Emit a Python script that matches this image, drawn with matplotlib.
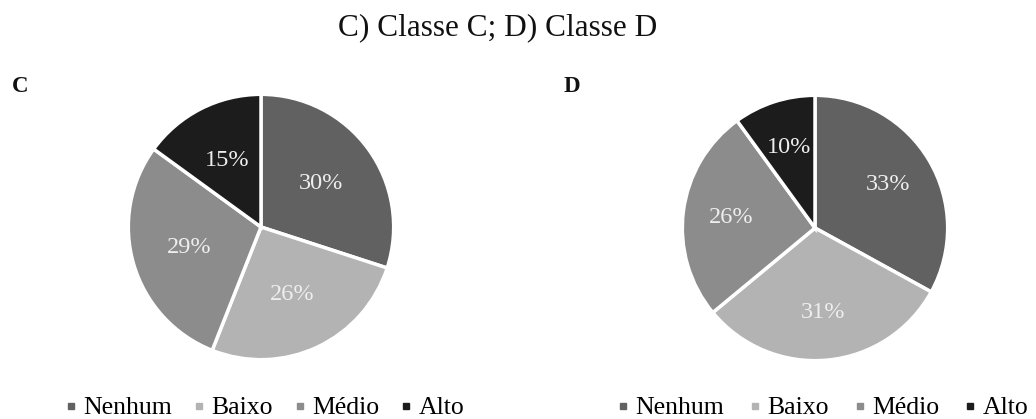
import matplotlib
matplotlib.use('Agg')
import matplotlib.pyplot as plt
from matplotlib.lines import Line2D

plt.rcParams['font.family'] = ['Liberation Serif', 'DejaVu Serif']

categorias = ['Nenhum', 'Baixo', 'Médio', 'Alto']
cores = ['#616161', '#b3b3b3', '#8c8c8c', '#1c1c1c']
classe_c = [30, 26, 29, 15]
classe_d = [33, 31, 26, 10]

W, H = 1036, 419
fig = plt.figure(figsize=(W / 100, H / 100), dpi=100)
fig.patch.set_facecolor('white')

fig.text(498 / W, 1 - 28 / H, 'C) Classe C; D) Classe D', ha='center', va='center',
         fontsize=22.5, color='#111111')


def desenha(valores, cx, cy, letra, lx, pctdist, leg_cx, colsp):
    r = 134
    ax = fig.add_axes([(cx - r) / W, (H - cy - r) / H, 2 * r / W, 2 * r / H])
    wedges, textos, autot = ax.pie(valores, colors=cores, startangle=90, counterclock=False,
                                   autopct='%1.0f%%', pctdistance=pctdist,
                                   wedgeprops=dict(edgecolor='white', linewidth=2.5),
                                   textprops=dict(color='#eeeeee', fontsize=17.5))
    ax.set_xlim(-1.01, 1.01)
    ax.set_ylim(-1.01, 1.01)
    ax.set_aspect('equal')
    ax.axis('off')
    fig.text(lx / W, 1 - 86 / H, letra, ha='center', va='center', fontsize=16.5,
             fontweight='bold', color='#111111')
    handles = [Line2D([], [], linestyle='none', marker='s', markersize=5,
                      markerfacecolor=c, markeredgecolor=c) for c in cores]
    fig.legend(handles, categorias, loc='center', bbox_to_anchor=(leg_cx / W, 1 - 408 / H),
               ncol=4, frameon=False, fontsize=18.5, handlelength=0.4, handletextpad=0.28,
               columnspacing=colsp, borderpad=0, borderaxespad=0)


desenha(classe_c, 261, 227, 'C', 20, 0.56, 265, 0.85)
desenha(classe_d, 815, 228, 'D', 572, 0.64, 823, 1.0)

fig.savefig('out.png', dpi=100, facecolor='white')
